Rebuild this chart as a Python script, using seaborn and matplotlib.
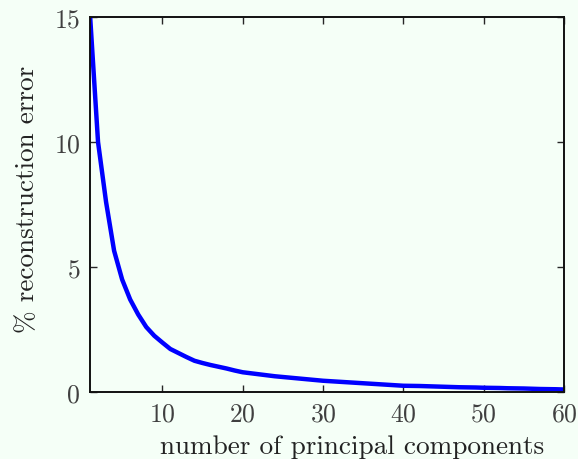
import numpy as np
import matplotlib
matplotlib.use("Agg")
import matplotlib.pyplot as plt
import seaborn as sns
import pandas as pd

# number of principal components kept
n_components = list(range(1, 61))
# percent reconstruction error
recon_error = [15.1, 10.0, 7.6, 5.65, 4.5, 3.7, 3.1, 2.6, 2.25, 1.98,
               1.72, 1.56, 1.40, 1.25, 1.16, 1.08, 1.01, 0.94, 0.86, 0.79,
               0.75, 0.71, 0.67, 0.63, 0.60, 0.57, 0.54, 0.51, 0.48, 0.45,
               0.43, 0.41, 0.39, 0.37, 0.35, 0.33, 0.31, 0.29, 0.27, 0.25,
               0.245, 0.24, 0.23, 0.22, 0.21, 0.20, 0.19, 0.185, 0.18, 0.17,
               0.165, 0.16, 0.15, 0.145, 0.14, 0.13, 0.12, 0.115, 0.11, 0.10]
x_ticks = [10, 20, 30, 40, 50, 60]
y_ticks = [0, 5, 10, 15]

df = pd.DataFrame({'k': n_components, 'err': recon_error})

sns.set_style('ticks')
bg = '#f5fff7'
plt.rcParams['font.family'] = ['cmr10', 'DejaVu Serif']
plt.rcParams['mathtext.fontset'] = 'cm'
plt.rcParams['axes.unicode_minus'] = False
plt.rcParams['axes.formatter.use_mathtext'] = True

fig = plt.figure(figsize=(5.78, 4.6), dpi=100, facecolor=bg)
ax = fig.add_axes([90 / 578, 1 - 393 / 460, (564 - 90) / 578, (393 - 18) / 460])
ax.set_facecolor(bg)

sns.lineplot(data=df, x='k', y='err', ax=ax, color='#0000ff', linewidth=3.2)

ax.set_xlim(1, 60)
ax.set_ylim(0, 15)
ax.set_xticks(x_ticks)
ax.set_yticks(y_ticks)
ax.tick_params(direction='in', top=True, right=True, length=5, width=1,
               labelsize=18.5, labelcolor='#404040', pad=7)
for s in ax.spines.values():
    s.set_visible(True)
    s.set_linewidth(1.4)
    s.set_color('#111111')

ax.set_xlabel('number of principal components', fontsize=19.6, color='#222222')
ax.set_ylabel('% reconstruction error', fontsize=19.6, color='#222222')
ax.xaxis.set_label_coords(0.553, -0.112)
ax.yaxis.set_label_coords(-0.107, 0.515)

fig.savefig('out.png', dpi=100, facecolor=bg)
